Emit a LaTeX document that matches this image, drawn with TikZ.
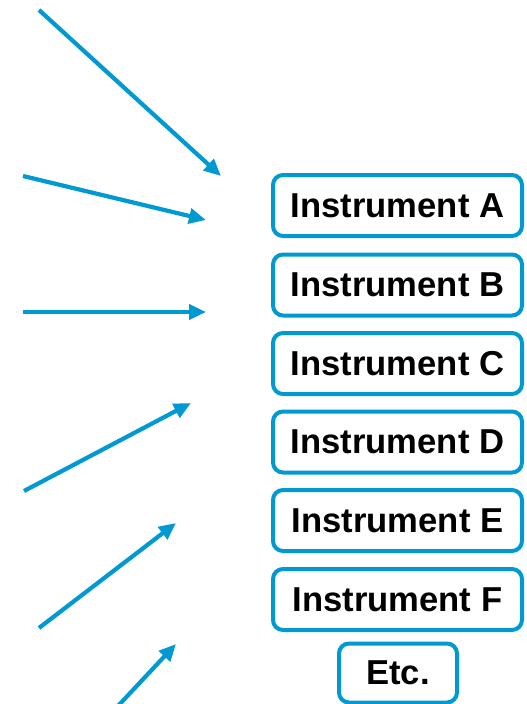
\documentclass[tikz,border=0pt]{standalone}
\usepackage{fontspec}
\setmainfont{Liberation Sans}
\usetikzlibrary{arrows.meta}
\definecolor{instblue}{RGB}{0,153,210}
\begin{document}
\begin{tikzpicture}[x=1pt,y=-1pt,
  instbox/.style={draw=instblue,line width=4pt,rounded corners=10pt,fill=white,
    minimum width=249pt,minimum height=61pt,inner sep=0pt,
    font=\fontsize{34.6}{40}\selectfont\bfseries},
  etcbox/.style={instbox,minimum width=118pt,minimum height=59pt},
  feed/.style={draw=instblue,line width=4.2pt,-{Triangle[length=17pt,width=15pt]}}]
\useasboundingbox (0,0) rectangle (527,704);
\node[instbox] (A) at (397.5,205.5) {Instrument A};
\node[instbox] (B) at (397.5,285) {Instrument B};
\node[instbox] (C) at (397.5,363.5) {Instrument C};
\node[instbox] (D) at (397.5,442) {Instrument D};
\node[instbox] (E) at (397.5,520.5) {Instrument E};
\node[instbox] (F) at (397.5,599.5) {Instrument F};
\node[etcbox] (G) at (398,673) {Etc.};
\coordinate (s1) at (39,10);   \coordinate (t1) at (221,176);
\coordinate (s2) at (23,176);  \coordinate (t2) at (206,220);
\coordinate (s3) at (23,312);  \coordinate (t3) at (206,312);
\coordinate (s4) at (24,491);  \coordinate (t4) at (191,403);
\coordinate (s5) at (39,628);  \coordinate (t5) at (176,523);
\coordinate (s6) at (118,706); \coordinate (t6) at (176,644);
\foreach \i in {1,...,6} { \draw[feed] (s\i) -- (t\i); }
\end{tikzpicture}
\end{document}
